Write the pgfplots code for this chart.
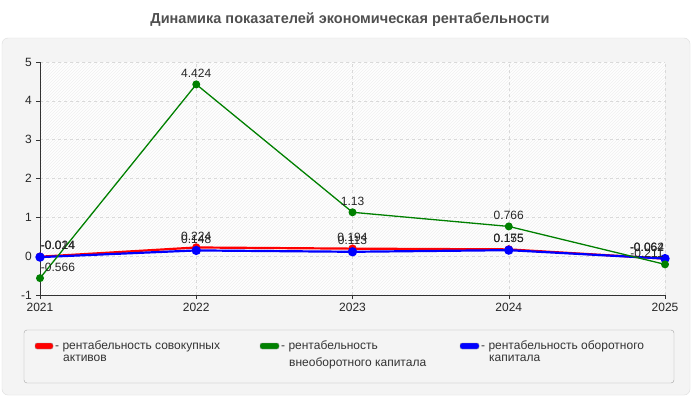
\documentclass[border=0pt]{standalone}
\usepackage{fontspec}
\setmainfont{Liberation Sans}
\usepackage{pgfplots}
\usepackage{pgfplotstable}
\pgfplotsset{compat=1.18}
\usetikzlibrary{patterns}

\definecolor{panel}{HTML}{F4F4F4}
\definecolor{panelline}{HTML}{DDDDDD}
\definecolor{titlegray}{HTML}{505050}
\definecolor{dgreen}{HTML}{008000}

% x  y  label  xshift
\pgfplotstableread{
x y lab xs
2021 -0.014 -0.014 18
2022 0.224 0.224 0
2023 0.194 0.194 0
2024 0.175 0.175 0
2025 -0.064 -0.064 -18
}\redtab
\pgfplotstableread{
x y lab xs
2021 -0.024 -0.024 18
2022 0.148 0.148 0
2023 0.113 0.113 0
2024 0.155 0.155 0
2025 -0.062 -0.062 -18
}\bluetab
\pgfplotstableread{
x y lab xs
2021 -0.566 -0.566 18
2022 4.424 4.424 0
2023 1.13 1.13 0
2024 0.766 0.766 0
2025 -0.211 -0.211 -18
}\greentab

\begin{document}
\fontsize{12}{14}\selectfont
\begin{tikzpicture}
  \fill[white] (0pt,0pt) rectangle (700pt,400pt);
  \draw[panelline, fill=panel, rounded corners=6pt] (2pt,5pt) rectangle (690pt,362pt);
  \node[font=\bfseries\fontsize{14.5}{16}\selectfont, text=titlegray] at (350pt,380pt)
    {Динамика показателей экономическая рентабельности};

  \begin{axis}[
      at={(40pt,105pt)}, anchor=south west,
      scale only axis, width=625pt, height=233pt,
      xmin=2021, xmax=2025, ymin=-1, ymax=5,
      xtick={2021,2022,2023,2024,2025},
      ytick={-1,0,1,2,3,4,5},
      xticklabel style={/pgf/number format/1000 sep={}},
      /pgf/number format/assume math mode=true,
      tick label style={font=\fontsize{12}{14}\selectfont, text=black!85},
      axis x line*=bottom, axis y line*=left,
      axis line style={black!80, -},
      tick style={black!80},
      tick align=outside, major tick length=4pt,
      grid=major,
      major grid style={dashed, black!15},
      axis background/.style={fill=white,
        postaction={pattern=north east lines, pattern color=black!6}},
      clip=false,
      point meta=explicit symbolic,
      nodes near coords,
      visualization depends on={\thisrow{xs} \as \xs},
      every node near coord/.append style={font=\fontsize{12}{14}\selectfont,
        text=black!85, xshift=\xs pt, yshift=4pt, inner sep=2pt},
    ]
    \addplot[red, line width=2.2pt, mark=*, mark size=3pt,
      mark options={fill=red, draw=red}] table[x=x, y=y, meta=lab] {\redtab};
    \addplot[blue, line width=2.2pt, mark=*, mark size=3.5pt,
      mark options={fill=blue, draw=blue}] table[x=x, y=y, meta=lab] {\bluetab};
    \addplot[dgreen, line width=1.3pt, mark=*, mark size=3.3pt,
      mark options={fill=dgreen, draw=dgreen}] table[x=x, y=y, meta=lab] {\greentab};
  \end{axis}

  % legend
  \draw[black!35, fill=panel, rounded corners=3pt] (24pt,17pt) rectangle (674pt,70pt);
  \begin{scope}[every node/.style={anchor=west, inner sep=0pt,
      font=\fontsize{12}{12}\selectfont, text=black!80}]
    \fill[red, draw=black!40, rounded corners=2pt] (35pt,51pt) rectangle (53pt,57pt);
    \node at (55pt,54pt) {- рентабельность совокупных};
    \node at (63pt,42pt) {активов};
    \fill[dgreen, draw=black!40, rounded corners=2pt] (260pt,51pt) rectangle (279pt,57pt);
    \node at (281pt,54pt) {- рентабельность};
    \node at (289pt,37pt) {внеоборотного капитала};
    \fill[blue, draw=black!40, rounded corners=2pt] (460pt,51pt) rectangle (479pt,57pt);
    \node at (481pt,54pt) {- рентабельность оборотного};
    \node at (489pt,42pt) {капитала};
  \end{scope}
\end{tikzpicture}
\end{document}
